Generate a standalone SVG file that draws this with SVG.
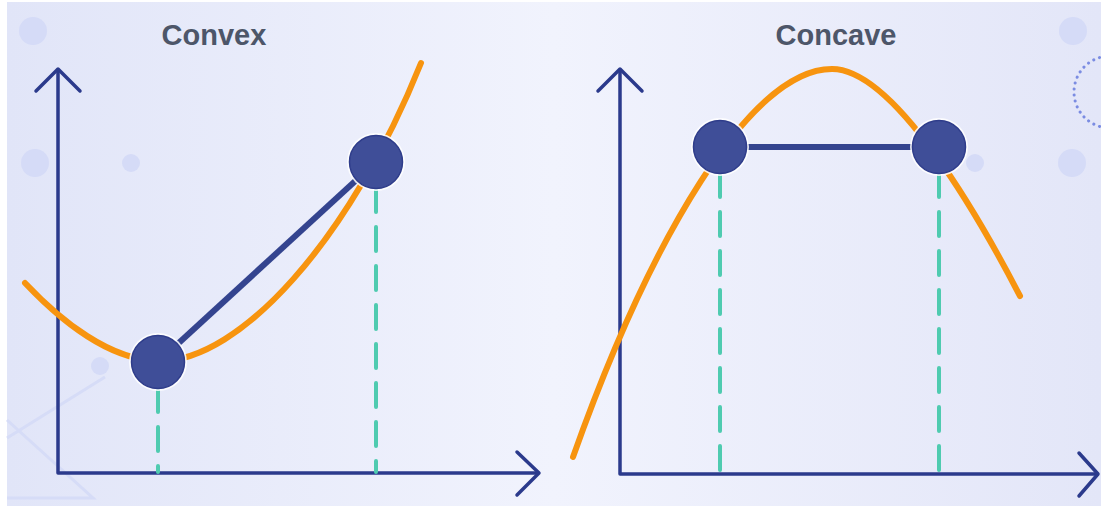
<svg xmlns="http://www.w3.org/2000/svg" width="1101" height="506" viewBox="0 0 1101 506">
  <defs>
    <linearGradient id="bg" x1="0" y1="0" x2="1" y2="0">
      <stop offset="0" stop-color="#e1e5f8"/>
      <stop offset="0.5" stop-color="#f1f3fd"/>
      <stop offset="1" stop-color="#e3e6f8"/>
    </linearGradient>
    <style>
      .axis { fill: none; stroke: #2b3a8c; stroke-width: 3.5; stroke-linecap: round; stroke-linejoin: round; }
      .curve { fill: none; stroke: #f7940f; stroke-width: 6; stroke-linecap: round; }
      .chord { fill: none; stroke: #34448f; stroke-width: 6; }
      .dash { fill: none; stroke: #4fcbb0; stroke-width: 4; stroke-dasharray: 24 15; stroke-linecap: round; }
      .pt { fill: #3f4e98; stroke: #2f3d8b; stroke-width: 1.5; }
      .halo { fill: #ffffff; opacity: 0.85; }
      .deco { fill: #d5dbf7; }
      .decoline { fill: none; stroke: #d6dcf7; stroke-width: 3; }
      .title { font-family: "Liberation Sans", Arial, sans-serif; font-weight: bold; font-size: 29px; fill: #4d5669; text-anchor: middle; }
    </style>
  </defs>
  <rect x="0" y="0" width="1101" height="506" fill="#ffffff"/>
  <rect x="7" y="2" width="1094" height="504" fill="url(#bg)"/>

  <g id="decoration">
    <circle class="deco" cx="33" cy="31" r="14"/>
    <circle class="deco" cx="35" cy="163" r="14"/>
    <circle class="deco" cx="131" cy="163" r="9"/>
    <circle class="deco" cx="100" cy="366" r="9"/>
    <circle class="deco" cx="1073" cy="31" r="14"/>
    <circle class="deco" cx="1072" cy="163" r="14"/>
    <circle class="deco" cx="975" cy="163" r="9"/>
    <circle cx="1110" cy="92" r="36" fill="none" stroke="#7b8ce2" stroke-width="3" stroke-dasharray="0.1 6" stroke-linecap="round"/>
    <polyline class="decoline" points="105,377 7,438"/>
    <polyline class="decoline" points="7,420 93,498 7,498"/>
  </g>

  <g id="title-convex"><text class="title" x="214" y="45">Convex</text></g>
  <g id="title-concave"><text class="title" x="836" y="45">Concave</text></g>

  <g id="connectors">
    <!-- convex axes -->
    <polyline class="axis" points="58,70 58,473 538,473"/>
    <polyline class="axis" points="36,91 58,69 80,91"/>
    <polyline class="axis" points="517,452 539,473 517,495"/>
    <!-- concave axes -->
    <polyline class="axis" points="620,70 620,474 1097,474"/>
    <polyline class="axis" points="598,91 620,69 642,91"/>
    <polyline class="axis" points="1079,453 1098,474 1079,496"/>
    <!-- dashed drop lines -->
    <line class="dash" x1="158" y1="388" x2="158" y2="472"/>
    <line class="dash" x1="376" y1="188" x2="376" y2="472"/>
    <line class="dash" x1="720" y1="173" x2="720" y2="473"/>
    <line class="dash" x1="939" y1="173" x2="939" y2="473"/>
    <!-- curves -->
    <path class="curve" d="M25,283 C60,320 110,361 160,361 C240,361 350,240 421,63"/>
    <path class="curve" d="M573,457 C650,240 750,69 832,69 C895,69 980,219 1020,296"/>
    <!-- chords -->
    <line class="chord" x1="158" y1="362" x2="376" y2="162"/>
    <line class="chord" x1="720" y1="147" x2="939" y2="147" stroke-width="5"/>
  </g>

  <g id="node-convex-a"><circle class="halo" cx="158" cy="362" r="29"/><circle class="pt" cx="158" cy="362" r="26.5"/></g>
  <g id="node-convex-b"><circle class="halo" cx="376" cy="162" r="29"/><circle class="pt" cx="376" cy="162" r="26.5"/></g>
  <g id="node-concave-a"><circle class="halo" cx="720" cy="147" r="29"/><circle class="pt" cx="720" cy="147" r="26.5"/></g>
  <g id="node-concave-b"><circle class="halo" cx="939" cy="147" r="29"/><circle class="pt" cx="939" cy="147" r="26.5"/></g>
</svg>
